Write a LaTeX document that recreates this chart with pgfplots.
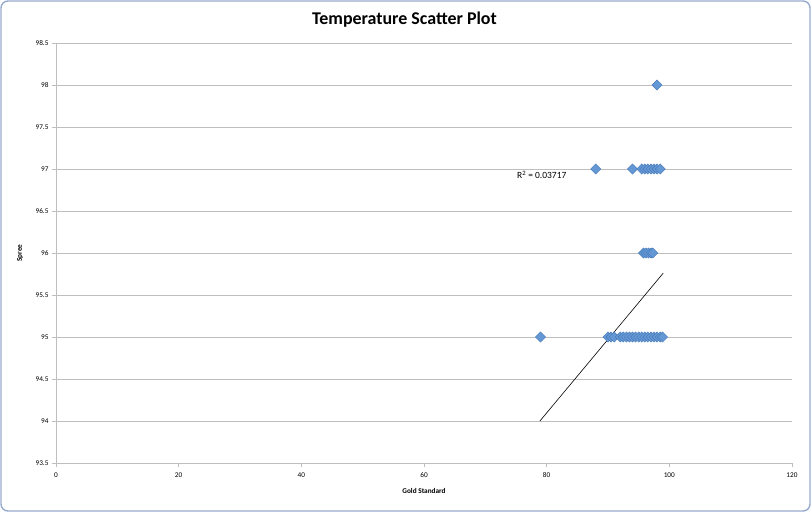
\documentclass[border=0pt]{standalone}
\usepackage{pgfplots}
\pgfplotsset{compat=1.18}
\usepackage{fontspec}
\setmainfont{Carlito}
\definecolor{mk}{RGB}{100,152,212}
\definecolor{mkd}{RGB}{70,120,185}
\definecolor{gridc}{RGB}{190,190,190}
\definecolor{framec}{RGB}{150,170,205}
\begin{document}
\begin{tikzpicture}
\useasboundingbox (-56bp,-49bp) rectangle (755bp,463bp);
\draw[rounded corners=7bp, line width=1.4bp, color=framec] (-55bp,-48bp) rectangle (754bp,462bp);
\begin{axis}[
  scale only axis,
  width=736bp, height=420bp,
  xmin=0, xmax=120, ymin=93.5, ymax=98.5,
  xtick={0,20,...,120},
  ytick={93.5,94,...,98.5},
  axis x line*=bottom, axis y line*=left,
  axis line style={gridc, line width=0.8bp},
  ymajorgrids, grid style={gridc, line width=0.9bp},
  tick style={gridc, line width=0.8bp},
  tick align=outside, major tick length=4bp,
  every tick label/.append style={font=\fontsize{7.3}{8}\selectfont, text=black},
  xticklabel style={yshift=-2bp},
  /pgf/number format/assume math mode=true,
  yticklabel style={/pgf/number format/fixed, /pgf/number format/precision=1},
  clip=false,
]
\addplot[only marks, mark=square*, mark size=3.6bp, mark options={rotate=45, fill=mk, draw=mkd, line width=0.4bp}] coordinates {
(98,98)
(88,97) (94,97) (95.5,97) (96,97) (96.5,97) (97,97) (97.5,97) (98,97) (98.5,97)
(95.8,96) (96.2,96) (96.6,96) (97,96) (97.3,96)
(79,95) (90,95) (90.5,95) (91,95) (92,95) (92.5,95) (93,95) (93.5,95) (94,95) (94.5,95) (95,95) (95.5,95) (96,95) (96.5,95) (97,95) (97.5,95) (98,95) (98.5,95) (98.9,95)
};
\addplot[black, line width=0.6bp] coordinates {(78.9,94.0) (99.0,95.76)};
\node[font=\fontsize{9.5}{10}\selectfont, anchor=center] at (axis cs:79.2,96.93) {R\textsuperscript{2} = 0.03717};
\end{axis}
\node[font=\fontsize{18}{20}\selectfont\bfseries] at (348.5bp,443bp) {Temperature Scatter Plot};
\node[font=\fontsize{7.3}{8}\selectfont\bfseries] at (368bp,-28bp) {Gold Standard};
\node[font=\fontsize{7.3}{8}\selectfont\bfseries, rotate=90] at (-36bp,210bp) {Spree};
\end{tikzpicture}
\end{document}
